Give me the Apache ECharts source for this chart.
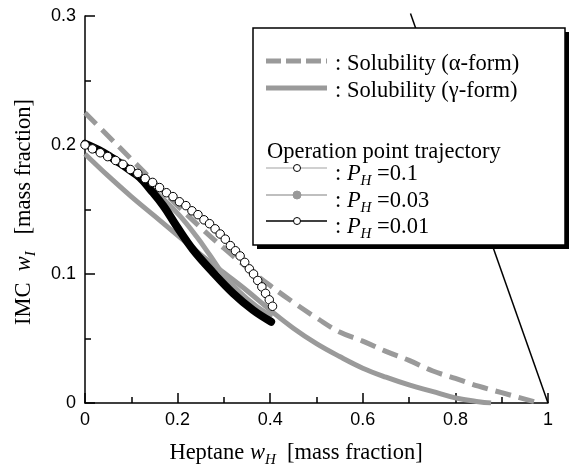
<!DOCTYPE html>
<html><head><meta charset="utf-8">
<script src="https://cdn.jsdelivr.net/npm/echarts@6/dist/echarts.min.js"></script>
<style>html,body{margin:0;padding:0;background:#fff}#c{width:572px;height:467px}</style>
</head><body><div id="c"></div>
<script>
// Solubility curves [w_H, w_I]
const alphaSolubility = [[0,0.225],[0.05,0.207],[0.1,0.189],[0.15,0.171],[0.2,0.153],[0.25,0.136],[0.3,0.120],[0.35,0.105],[0.4,0.091],[0.45,0.078],[0.5,0.066],[0.55,0.055],[0.6,0.048],[0.65,0.040],[0.7,0.033],[0.75,0.025],[0.8,0.019],[0.85,0.013],[0.9,0.008],[0.95,0.003],[0.98,0.0]];
const gammaSolubility = [[0,0.193],[0.05,0.176],[0.1,0.160],[0.15,0.145],[0.2,0.130],[0.25,0.115],[0.3,0.101],[0.35,0.087],[0.4,0.072],[0.45,0.058],[0.5,0.046],[0.55,0.036],[0.6,0.027],[0.65,0.020],[0.7,0.014],[0.75,0.009],[0.8,0.004],[0.85,0.001],[0.877,0.0]];
// Operation point trajectories
const trajP01 = [[0,0.200],[0.016,0.197],[0.033,0.194],[0.049,0.191],[0.066,0.188],[0.082,0.185],[0.098,0.181],[0.114,0.178],[0.130,0.174],[0.146,0.171],[0.161,0.167],[0.176,0.163],[0.190,0.160],[0.204,0.156],[0.218,0.153],[0.231,0.149],[0.244,0.146],[0.257,0.142],[0.269,0.139],[0.281,0.135],[0.292,0.131],[0.303,0.127],[0.314,0.122],[0.325,0.118],[0.335,0.114],[0.345,0.109],[0.355,0.104],[0.364,0.100],[0.373,0.095],[0.382,0.090],[0.390,0.085],[0.398,0.080],[0.405,0.075]];
const trajP003 = [[0,0.200],[0.03,0.196],[0.06,0.191],[0.09,0.184],[0.126,0.171],[0.169,0.158],[0.205,0.145],[0.241,0.129],[0.269,0.115],[0.298,0.100],[0.334,0.086],[0.37,0.075],[0.40,0.068]];
const trajP001 = [[0,0.201],[0.03,0.196],[0.054,0.191],[0.075,0.186],[0.095,0.181],[0.118,0.175],[0.14,0.166],[0.169,0.153],[0.198,0.137],[0.233,0.119],[0.277,0.101],[0.32,0.085],[0.363,0.072],[0.402,0.063]];
const boundaryLine = [[0.703,0.302],[1,0]];
const legendLabels = [': Solubility (α-form)', ': Solubility (γ-form)', 'Operation point trajectory', '0.1', '0.03', '0.01'];

const serif = '"Liberation Serif","Times New Roman",serif';
const sans = '"Liberation Sans",Arial,sans-serif';
const rich = {
  n:{fontFamily:serif,fontSize:22.5,lineHeight:30,color:'#000'},
  i:{fontFamily:serif,fontSize:22.5,fontStyle:'italic',lineHeight:30,color:'#000'},
  s:{fontFamily:serif,fontSize:15,fontStyle:'italic',lineHeight:15,verticalAlign:'bottom',color:'#000'}
};
const grayS = '#9a9a9a';
const fmt = v => String(+v.toFixed(2));

const chart = echarts.init(document.getElementById('c'));
const axisCommon = {
  type:'value',
  axisLine:{show:true,onZero:false,lineStyle:{color:'#000',width:1.5}},
  axisTick:{show:true,inside:true,length:10,lineStyle:{color:'#000',width:1.5}},
  minorTick:{show:true,splitNumber:2,length:6,lineStyle:{color:'#000',width:1.5}},
  splitLine:{show:false}
};
const LZ = 100;
function legendText(x,y,text){
  return {type:'text',z:LZ+2,x:x,y:y,style:{text:text,rich:rich,fontFamily:serif,fontSize:22.5,align:'left',verticalAlign:'middle',fill:'#000'}};
}
const lx1 = 266, lx2 = 327, lmx = 297, ltx = 335;
chart.setOption({
  animation:false,
  grid:{left:85,right:24,top:16,bottom:64,containLabel:false},
  xAxis:Object.assign({},axisCommon,{min:0,max:1,interval:0.2,
    axisLabel:{fontFamily:sans,fontSize:18,color:'#000',margin:8,formatter:fmt}}),
  yAxis:Object.assign({},axisCommon,{min:0,max:0.3,interval:0.1,
    axisLabel:{fontFamily:sans,fontSize:18,color:'#000',margin:9,formatter:fmt}}),
  series:[
    {type:'line',data:boundaryLine,symbol:'none',clip:false,lineStyle:{color:'#000',width:1.5},z:1},
    {type:'line',data:alphaSolubility,smooth:0.4,symbol:'none',lineStyle:{color:grayS,width:5,type:[16,8],cap:'butt'},z:2},
    {type:'line',data:gammaSolubility,smooth:0.4,symbol:'none',lineStyle:{color:grayS,width:5},z:3},
    {type:'line',data:trajP003,smooth:0.4,symbol:'none',lineStyle:{color:'#9e9e9e',width:5,cap:'round',join:'round'},z:4},
    {type:'line',data:trajP001,smooth:0.4,symbol:'none',lineStyle:{color:'#000',width:8,cap:'round',join:'round'},z:5},
    {type:'line',data:trajP01,symbol:'circle',symbolSize:8.5,itemStyle:{color:'#fff',borderColor:'#000',borderWidth:1},lineStyle:{color:'#c0c0c0',width:1},z:6}
  ],
  graphic:{elements:[
    {type:'text',z:LZ,x:296,y:453,style:{text:'{n|Heptane }{i|w}{s|H}{n|  [mass fraction]}',rich:rich,align:'center',verticalAlign:'middle'}},
    {type:'text',z:LZ,x:24,y:212,rotation:Math.PI/2,style:{text:'{n|IMC  }{i|w}{s|I}{n|   [mass fraction]}',rich:rich,align:'center',verticalAlign:'middle'}},
    {type:'rect',z:LZ,shape:{x:257,y:32,width:312,height:217},style:{fill:'#000'}},
    {type:'rect',z:LZ+1,shape:{x:253,y:28,width:312,height:217},style:{fill:'#fff',stroke:'#000',lineWidth:1.5}},
    {type:'line',z:LZ+2,shape:{x1:lx1,y1:61,x2:lx2,y2:61},style:{stroke:grayS,lineWidth:5,lineDash:[15,5]}},
    legendText(ltx,64,'{n|'+legendLabels[0]+'}'),
    {type:'line',z:LZ+2,shape:{x1:lx1,y1:88,x2:lx2,y2:88},style:{stroke:grayS,lineWidth:5}},
    legendText(ltx,91,'{n|'+legendLabels[1]+'}'),
    legendText(267,152,'{n|'+legendLabels[2]+'}'),
    {type:'line',z:LZ+2,shape:{x1:lx1,y1:168,x2:lx2,y2:168},style:{stroke:'#c0c0c0',lineWidth:1.5}},
    {type:'circle',z:LZ+3,shape:{cx:lmx,cy:168,r:3.5},style:{fill:'#fff',stroke:'#000',lineWidth:1}},
    legendText(ltx,174,'{n|: }{i|P}{s|H}{n| =}{n|'+legendLabels[3]+'}'),
    {type:'line',z:LZ+2,shape:{x1:lx1,y1:195,x2:lx2,y2:195},style:{stroke:'#aaa',lineWidth:1.5}},
    {type:'circle',z:LZ+3,shape:{cx:lmx,cy:195,r:4},style:{fill:'#999',stroke:'#999',lineWidth:1}},
    legendText(ltx,201,'{n|: }{i|P}{s|H}{n| =}{n|'+legendLabels[4]+'}'),
    {type:'line',z:LZ+2,shape:{x1:lx1,y1:221,x2:lx2,y2:221},style:{stroke:'#000',lineWidth:1.5}},
    {type:'circle',z:LZ+3,shape:{cx:lmx,cy:221,r:3.5},style:{fill:'#fff',stroke:'#000',lineWidth:1}},
    legendText(ltx,227,'{n|: }{i|P}{s|H}{n| =}{n|'+legendLabels[5]+'}')
  ]}
});
</script></body></html>
